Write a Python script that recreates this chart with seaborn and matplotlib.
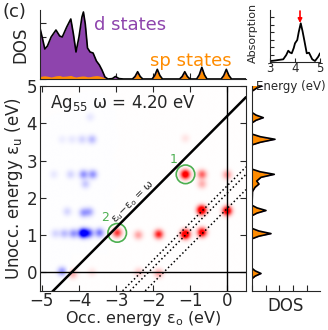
import numpy as np
import matplotlib
matplotlib.use("Agg")
import matplotlib.pyplot as plt
from matplotlib.patches import Circle
from matplotlib.ticker import MultipleLocator, NullFormatter
import seaborn as sns

sns.set_style("ticks")
plt.rcParams["font.family"] = ["DejaVu Sans"]
plt.rcParams["font.size"] = 12
plt.rcParams["xtick.direction"] = "in"
plt.rcParams["ytick.direction"] = "in"

omega = 4.20
purple = "#8E44AD"
orange = "#FF8C00"
green = "#4CAF50"

# occupied states DOS (top panel): energy, total, sp part
occ_e = [-5.05, -4.98, -4.92, -4.85, -4.75, -4.62, -4.52, -4.45, -4.33, -4.22, -4.15, -4.08,
         -4.00, -3.92, -3.88, -3.83, -3.77, -3.70, -3.62, -3.53, -3.45, -3.38, -3.30, -3.22,
         -3.10, -3.02, -2.92, -2.80, -2.56, -2.49, -2.42, -2.35, -2.28, -2.03, -1.96, -1.89,
         -1.82, -1.75, -1.29, -1.22, -1.15, -1.08, -1.01, -0.83, -0.76, -0.69, -0.62, -0.55,
         -0.17, -0.10, -0.03, 0.04, 0.11, 0.50]
occ_tot = [51, 40, 30, 33, 42, 49, 43, 42, 52, 60, 45, 27,
           42, 62, 67, 55, 31, 27, 26, 18, 14, 9, 2, 0,
           0.4, 2.5, 0.4, 0, 0, 2.5, 7.3, 2.5, 0, 0, 3.5, 9.7,
           3.5, 0, 0, 2.5, 7.3, 2.5, 0, 0, 4.2, 11.7, 4.2, 0,
           0, 3.5, 9.7, 3.5, 0, 0]
occ_sp = [2.5, 3.0, 3.2, 2.8, 2.0, 3.2, 3.5, 2.6, 3.0, 3.6, 2.6, 2.0,
          2.6, 3.0, 3.0, 2.8, 2.2, 2.4, 3.0, 3.4, 3.0, 2.2, 1.0, 0,
          0, 0.6, 0, 0, 0, 2.0, 5.8, 2.0, 0, 0, 3.0, 8.0,
          3.0, 0, 0, 2.0, 6.0, 2.0, 0, 0, 3.6, 10.0, 3.6, 0,
          0, 3.0, 8.2, 3.0, 0, 0]

# unoccupied states DOS (right panel)
unocc_e = [-0.50, -0.17, -0.10, -0.03, 0.04, 0.11, 0.90, 0.97, 1.04, 1.11, 1.18, 1.52,
           1.59, 1.66, 1.73, 1.80, 2.17, 2.28, 2.37, 2.45, 2.55, 2.63, 2.70, 2.77,
           3.42, 3.49, 3.57, 3.64, 3.71, 4.01, 4.08, 4.15, 4.22, 4.29, 4.86, 4.95,
           5.00, 5.05]
unocc_tot = [0, 0, 3.2, 9, 3.2, 0, 0, 6.8, 19, 6.8, 0, 0,
             5, 14, 5, 0, 0.5, 3, 7, 4.7, 9, 22.3, 8, 0,
             0, 8.3, 23, 8.3, 0, 0, 4, 11.3, 4, 0, 0, 5,
             10, 13]
unocc_sp = [0, 0, 2.8, 7.5, 2.8, 0, 0, 5.5, 16, 5.5, 0, 0,
            4.2, 12, 4.2, 0, 0.4, 2.5, 6, 4, 7.5, 19, 6.8, 0,
            0, 7, 19.5, 7, 0, 0, 3.4, 9.6, 3.4, 0, 0, 4,
            8.5, 11]

# absorption spectrum (inset)
abs_e = [3.0, 3.04, 3.2, 3.33, 3.53, 3.65, 3.73, 3.8, 3.87, 3.95, 4.0, 4.09, 4.15,
         4.23, 4.3, 4.37, 4.47, 4.56, 4.69, 4.8, 4.93, 5.0]
abs_val = [0.8, 1, 1.5, 2, 2.7, 7, 11.3, 9.5, 8.7, 14, 18.7, 22, 30,
           38.7, 31, 22, 8.7, 9.3, 2.7, 1, 5.3, 8.7]

# transition contributions (occupied energy, unoccupied energy, weight)
tr_eo = [-1.13, -0.68, -0.68, 0.00, -1.13, -0.69, 0.00, -1.13, -0.68, -1.85, -2.40, -2.97,
         -1.85, -2.39, -4.17, -3.65,
         -3.89, -3.73, -3.45, -4.15, -4.40, -4.64, -3.88, -3.72, -4.32, -4.46, -3.88, -3.63,
         -3.83, -4.23, -4.68, -3.65, -3.92, -4.19, -4.46, -3.70]
tr_eu = [2.63, 2.63, 2.37, 2.62, 3.60, 1.67, 1.65, 1.02, 1.07, 1.02, 1.00, 1.06,
         -0.03, 0.00, -0.05, 0.00,
         1.05, 1.05, 1.06, 1.04, 1.04, 1.04, 1.60, 1.62, 1.63, 0.02, 2.63, 2.63,
         2.37, 2.63, 2.63, 3.57, 3.57, 3.57, 3.57, 4.17]
tr_w = [1.3, 0.6, 0.3, 0.4, 0.1, 1.5, 1.3, 1.5, 1.2, 0.9, 0.35, 0.8,
        0.35, 0.2, 0.3, 0.1,
        -1.3, -0.6, -0.5, -0.4, -0.25, -0.15, -0.35, -0.3, -0.15, -0.4, -0.4, -0.4,
        -0.2, -0.15, -0.08, -0.25, -0.15, -0.08, -0.06, -0.08]

dotted_offsets = [2.33, 2.13, 1.72]
circled = {"1": (-1.13, 2.63), "2": (-2.97, 1.06)}
circle_label_pos = {"1": (-1.45, 3.04), "2": (-3.29, 1.48)}

xlim = (-5.05, 0.5)
ylim = (-0.5, 5.0)

W, H = 328, 330
fig = plt.figure(figsize=(W / 100, H / 100), dpi=100)
ax = fig.add_axes([40 / W, 1 - 291 / H, 206 / W, 205 / H])
ax_top = fig.add_axes([40 / W, 1 - 79 / H, 206 / W, 69 / H])
ax_right = fig.add_axes([252 / W, 1 - 291 / H, 68 / W, 205 / H])
ax_in = fig.add_axes([270 / W, 1 - 62 / H, 50 / W, 52 / H])

# main transition map
gx = np.linspace(xlim[0], xlim[1], 400)
gy = np.linspace(ylim[0], ylim[1], 400)
X, Y = np.meshgrid(gx, gy)
Z = np.zeros_like(X)
sig = 0.085
for eo, eu, w in zip(tr_eo, tr_eu, tr_w):
    Z += w * np.exp(-((X - eo) ** 2 + (Y - eu) ** 2) / (2 * sig ** 2))
ax.imshow(Z, origin="lower", extent=[xlim[0], xlim[1], ylim[0], ylim[1]],
          cmap="bwr", vmin=-1, vmax=1, aspect="auto", interpolation="bilinear")

xs = np.array(xlim)
ax.plot(xs, xs + omega, color="k", lw=1.8)
for c in dotted_offsets:
    ax.plot(xs, xs + c, color="k", lw=1.1, ls=":")
ax.axhline(0, color="k", lw=1)
ax.axvline(0, color="k", lw=1)
for k, (cx, cy) in circled.items():
    ax.add_patch(Circle((cx, cy), 0.25, fill=False, ec=green, lw=1.2))
    lx, ly = circle_label_pos[k]
    ax.text(lx, ly, k, color=green, fontsize=9, ha="center", va="center")
ax.text(-2.55, 1.88, r"ε$_\mathrm{u}$$-$ε$_\mathrm{o}$ = ω", rotation=45, fontsize=7.5,
        ha="center", va="center", rotation_mode="anchor")
ax.text(-4.78, 4.52, r"Ag$_{55}$ ω = 4.20 eV", fontsize=12, va="center")

ax.set_xlim(xlim)
ax.set_ylim(ylim)
ax.set_xticks([-5, -4, -3, -2, -1, 0])
ax.set_yticks([0, 1, 2, 3, 4, 5])
ax.tick_params(top=True, right=True, length=4, pad=2)
ax.tick_params(axis="x", pad=1)
ax.set_xlabel(r"Occ. energy ε$_\mathrm{o}$ (eV)", fontsize=11.5, labelpad=-1)
ax.set_ylabel(r"Unocc. energy ε$_\mathrm{u}$ (eV)", labelpad=1)

# top DOS
ax_top.fill_between(occ_e, 0, occ_tot, color=purple, lw=0)
ax_top.fill_between(occ_e, 0, occ_sp, color=orange, lw=0)
sns.lineplot(x=occ_e, y=occ_tot, ax=ax_top, color="k", lw=1.2, sort=False, estimator=None)
ax_top.set_xlim(xlim)
ax_top.set_ylim(0, 69)
ax_top.set_xticks([-5, -4, -3, -2, -1, 0])
ax_top.yaxis.set_major_locator(MultipleLocator(14))
ax_top.xaxis.set_major_formatter(NullFormatter())
ax_top.yaxis.set_major_formatter(NullFormatter())
ax_top.tick_params(length=4)
sns.despine(ax=ax_top)
ax_top.set_ylabel("DOS", fontsize=12, labelpad=4)
ax_top.text(-2.63, 54, "d states", color=purple, fontsize=13, ha="center", va="center")
ax_top.text(-1.0, 17.5, "sp states", color=orange, fontsize=13, ha="center", va="center")

# right DOS
ax_right.fill_betweenx(unocc_e, 0, unocc_tot, color=purple, lw=0)
ax_right.fill_betweenx(unocc_e, 0, unocc_sp, color=orange, lw=0)
sns.lineplot(x=unocc_tot, y=unocc_e, ax=ax_right, color="k", lw=1.2, sort=False,
             estimator=None, orient="y")
ax_right.set_ylim(ylim)
ax_right.set_xlim(0, 68)
ax_right.xaxis.set_major_locator(MultipleLocator(13.7))
ax_right.set_yticks([])
ax_right.xaxis.set_major_formatter(NullFormatter())
ax_right.tick_params(length=4)
sns.despine(ax=ax_right)
ax_right.set_xlabel("DOS", fontsize=12, labelpad=1)

# absorption inset
sns.lineplot(x=abs_e, y=abs_val, ax=ax_in, color="k", lw=1.3, sort=False, estimator=None)
ax_in.annotate("", xy=(4.2, 39), xytext=(4.2, 51),
               arrowprops=dict(arrowstyle="-|>", color="red", lw=1.2, mutation_scale=6,
                               shrinkA=0, shrinkB=0))
ax_in.set_xlim(3, 5)
ax_in.set_ylim(0, 52)
ax_in.set_xticks([3, 4, 5])
ax_in.yaxis.set_major_locator(MultipleLocator(7.5))
ax_in.yaxis.set_major_formatter(NullFormatter())
ax_in.tick_params(labelsize=8.5, length=3, pad=0)
sns.despine(ax=ax_in)
ax_in.set_xlabel("Energy (eV)", fontsize=8.5)
ax_in.xaxis.set_label_coords(0.42, -0.34)
ax_in.set_ylabel("Absorption", fontsize=8)
ax_in.yaxis.set_label_coords(-0.24, 0.55)

fig.text(0.008, 0.99, "(c)", fontsize=13, va="top", ha="left")

fig.savefig("out.png", dpi=100)
